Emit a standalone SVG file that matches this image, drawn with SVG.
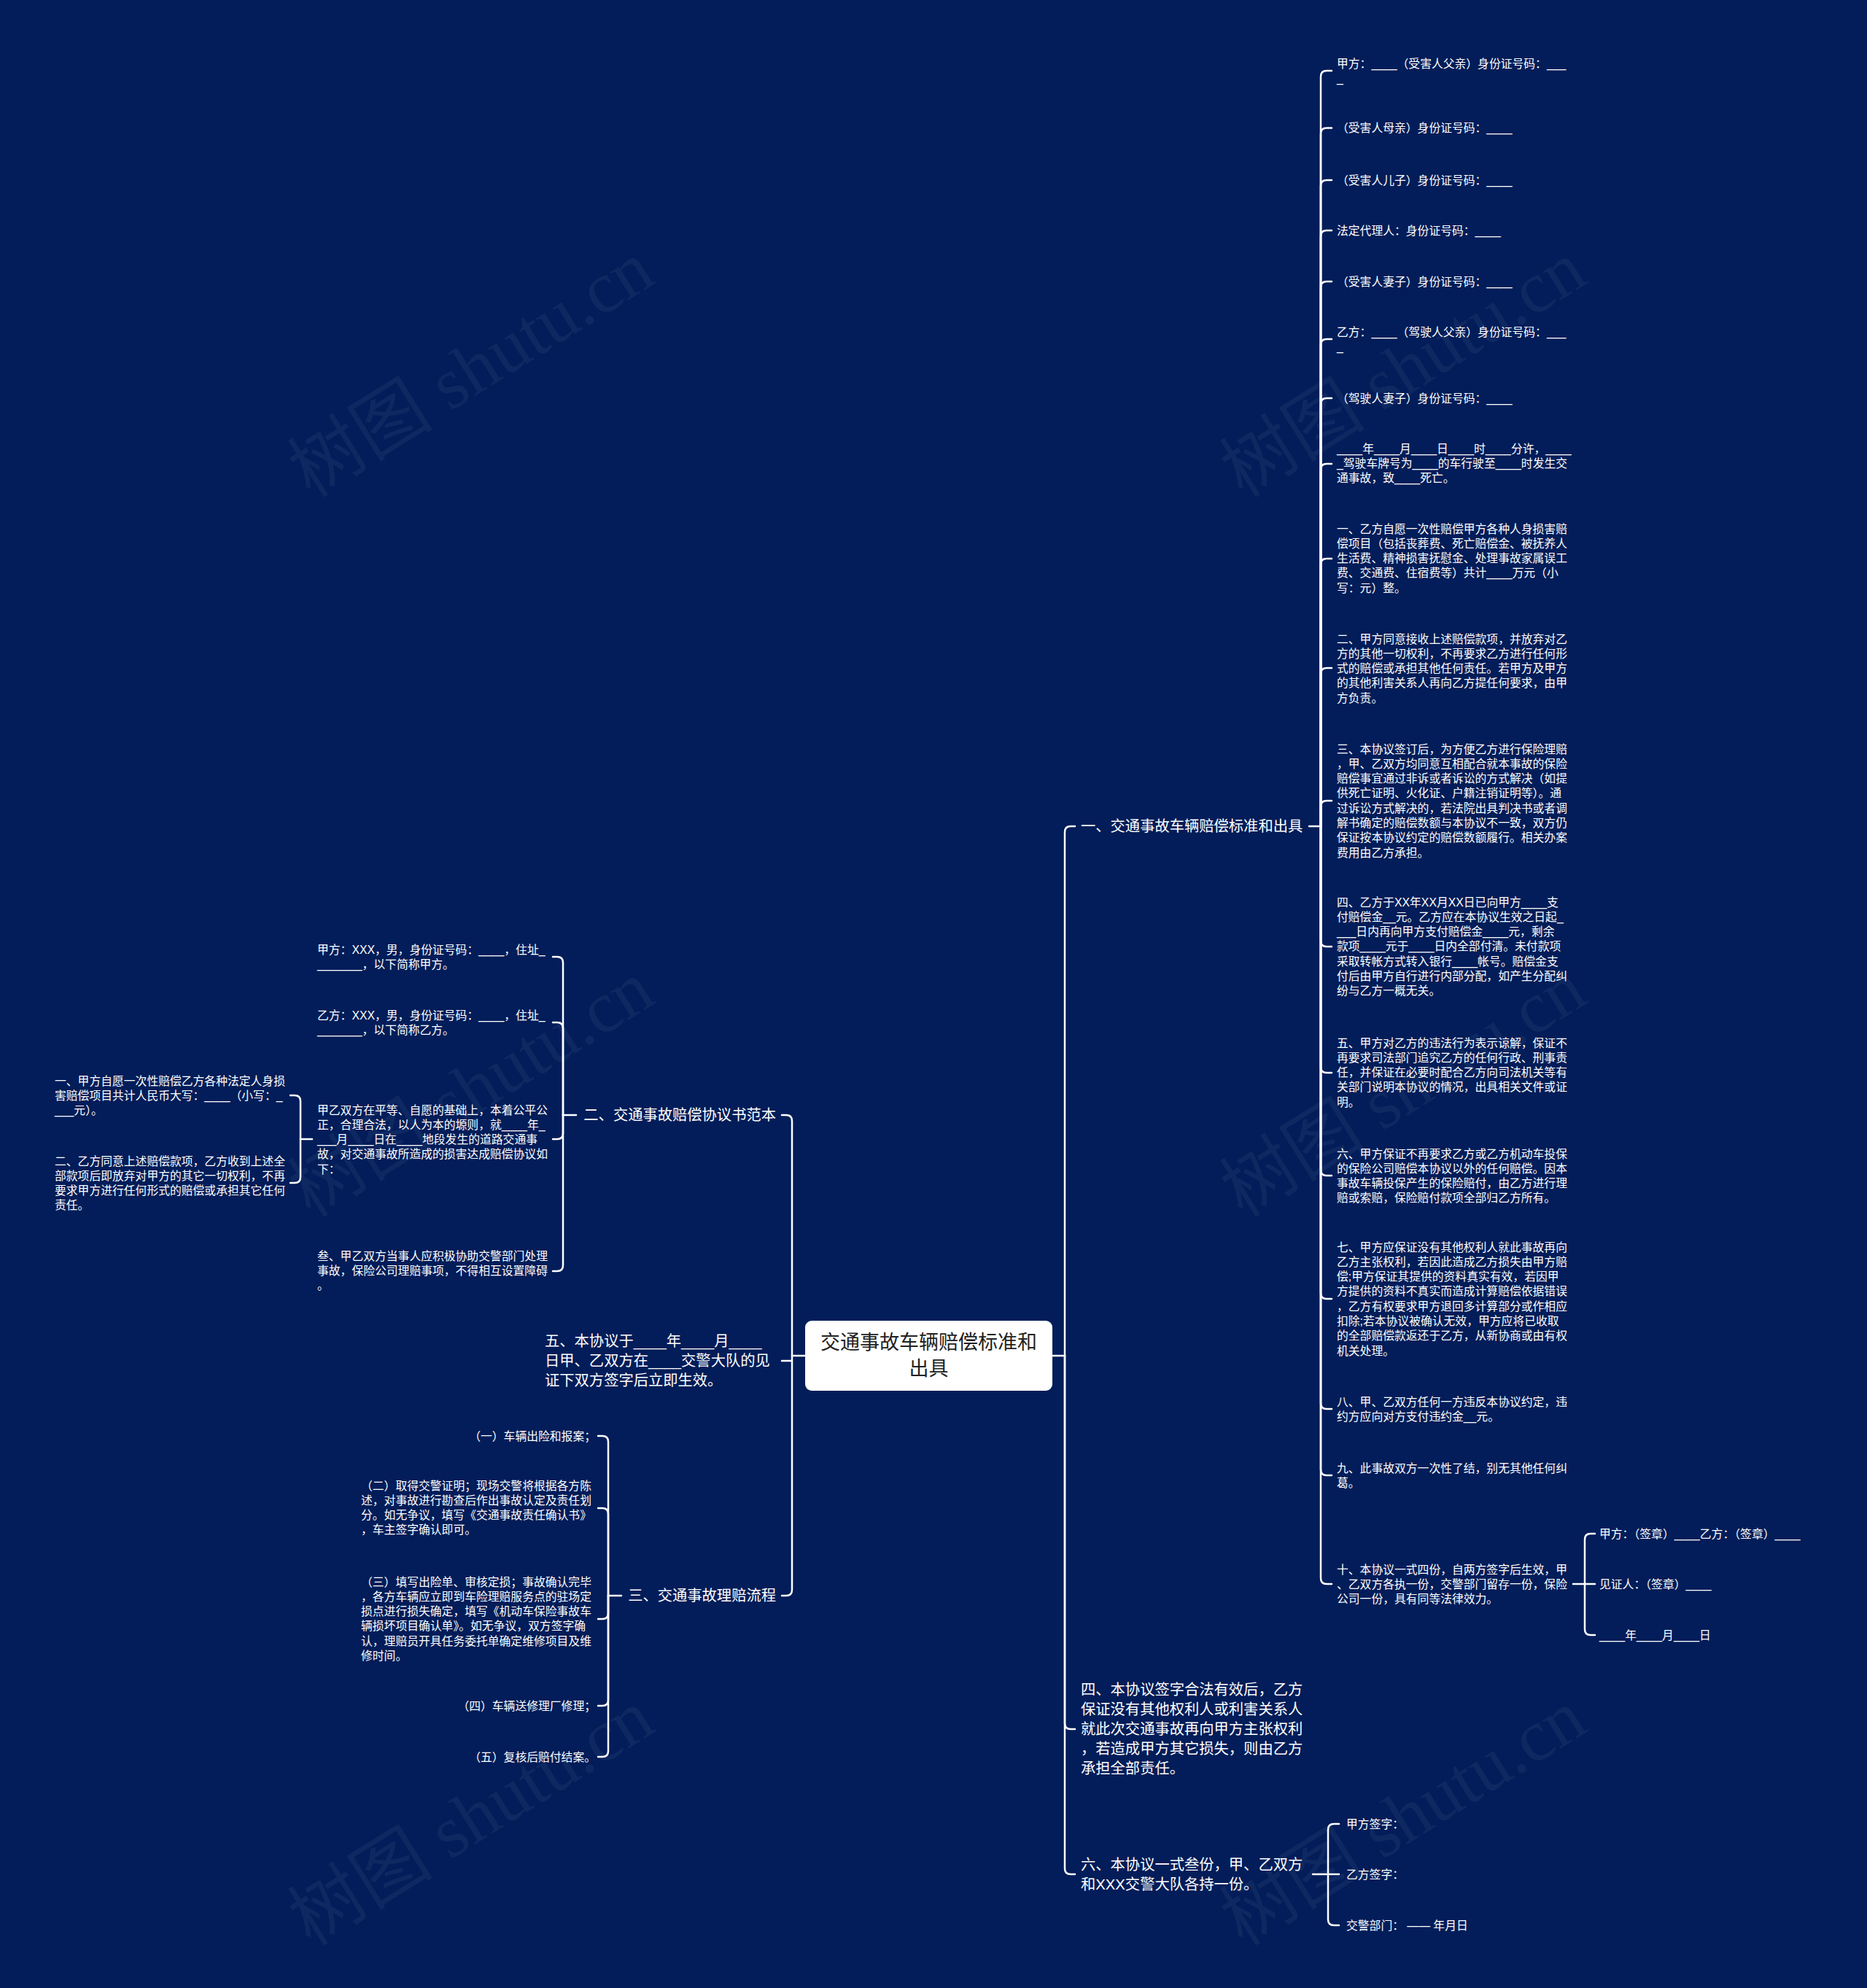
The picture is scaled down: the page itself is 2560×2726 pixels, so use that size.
<svg xmlns="http://www.w3.org/2000/svg" width="2560" height="2726" viewBox="0 0 2560 2726">
<style>
text{font-family:"Liberation Sans","Noto Sans CJK SC",sans-serif;fill:#ffffff}
.s{font-size:15.8px}
.m{font-size:20.3px}
.r{font-size:27px;fill:#222222;text-anchor:middle}
.e{text-anchor:end}
.c{fill:none;stroke:#ffffff;stroke-width:2.5;stroke-linecap:round}
.wm{font-family:"Liberation Serif","Noto Sans CJK SC",serif;font-size:100px;fill:#ffffff;fill-opacity:0.05}
</style>
<rect x="0" y="0" width="2560" height="2726" fill="#021d59"/>
<g id="watermarks">
<text class="wm" x="647" y="540" text-anchor="middle" transform="rotate(-32 647 508)">树图 shutu.cn</text>
<text class="wm" x="1925" y="540" text-anchor="middle" transform="rotate(-32 1925 508)">树图 shutu.cn</text>
<text class="wm" x="647" y="1527" text-anchor="middle" transform="rotate(-32 647 1495)">树图 shutu.cn</text>
<text class="wm" x="1925" y="1527" text-anchor="middle" transform="rotate(-32 1925 1495)">树图 shutu.cn</text>
<text class="wm" x="647" y="2526" text-anchor="middle" transform="rotate(-32 647 2494)">树图 shutu.cn</text>
<text class="wm" x="1925" y="2526" text-anchor="middle" transform="rotate(-32 1925 2494)">树图 shutu.cn</text>
</g>
<g id="connectors" class="c">
<path d="M1443,1859 H1460"/>
<path d="M1460,1859 V1141 Q1460,1133 1468,1133 H1474"/>
<path d="M1460,1859 V2363 Q1460,2371 1468,2371 H1474"/>
<path d="M1460,1859 V2562 Q1460,2570 1468,2570 H1474"/>
<path d="M1104,1859 H1086"/>
<path d="M1086,1859 V1537 Q1086,1529 1078,1529 H1072"/>
<path d="M1086,1859 V2180 Q1086,2188 1078,2188 H1072"/>
<path d="M1086,1866 H1072"/>
<path d="M1795,1133 H1811"/>
<path d="M1811,1133 V105 Q1811,97 1819,97 H1826"/>
<path d="M1811,1133 V183.5 Q1811,175.5 1819,175.5 H1826"/>
<path d="M1811,1133 V255 Q1811,247 1819,247 H1826"/>
<path d="M1811,1133 V324 Q1811,316 1819,316 H1826"/>
<path d="M1811,1133 V394 Q1811,386 1819,386 H1826"/>
<path d="M1811,1133 V473 Q1811,465 1819,465 H1826"/>
<path d="M1811,1133 V554 Q1811,546 1819,546 H1826"/>
<path d="M1811,1133 V644 Q1811,636 1819,636 H1826"/>
<path d="M1811,1133 V774 Q1811,766 1819,766 H1826"/>
<path d="M1811,1133 V924 Q1811,916 1819,916 H1826"/>
<path d="M1811,1133 V1106 Q1811,1098 1819,1098 H1826"/>
<path d="M1811,1133 V1290 Q1811,1298 1819,1298 H1826"/>
<path d="M1811,1133 V1463 Q1811,1471 1819,1471 H1826"/>
<path d="M1811,1133 V1604 Q1811,1612 1819,1612 H1826"/>
<path d="M1811,1133 V1773 Q1811,1781 1819,1781 H1826"/>
<path d="M1811,1133 V1924 Q1811,1932 1819,1932 H1826"/>
<path d="M1811,1133 V2015 Q1811,2023 1819,2023 H1826"/>
<path d="M1811,1133 V2164 Q1811,2172 1819,2172 H1826"/>
<path d="M2157,2172 H2187"/>
<path d="M2173,2172 V2111 Q2173,2103 2181,2103 H2187"/>
<path d="M2173,2172 V2234 Q2173,2242 2181,2242 H2187"/>
<path d="M1800,2570 H1836"/>
<path d="M1821,2570 V2509 Q1821,2501 1829,2501 H1836"/>
<path d="M1821,2570 V2632 Q1821,2640 1829,2640 H1836"/>
<path d="M790,1529 H772"/>
<path d="M772,1529 V1320 Q772,1312 764,1312 H758"/>
<path d="M772,1529 V1410 Q772,1402 764,1402 H758"/>
<path d="M772,1529 V1554 Q772,1562 764,1562 H758"/>
<path d="M772,1529 V1735 Q772,1743 764,1743 H758"/>
<path d="M428,1562 H412"/>
<path d="M412,1562 V1510 Q412,1502 404,1502 H398"/>
<path d="M412,1562 V1614 Q412,1622 404,1622 H398"/>
<path d="M852,2188 H834"/>
<path d="M834,2188 V1977 Q834,1969 826,1969 H820"/>
<path d="M834,2188 V2076 Q834,2068 826,2068 H820"/>
<path d="M834,2188 V2212 Q834,2220 826,2220 H820"/>
<path d="M834,2188 V2331 Q834,2339 826,2339 H820"/>
<path d="M834,2188 V2401 Q834,2409 826,2409 H820"/>
</g>
<g id="root">
<rect x="1104" y="1811" width="339" height="96" rx="9" fill="#ffffff"/>
<text class="r" x="1273.5" y="1850">交通事故车辆赔偿标准和<tspan x="1273.5" dy="36">出具</tspan></text>
</g>
<g id="b1"><text class="m" x="1482" y="1140">一、交通事故车辆赔偿标准和出具</text></g>
<g id="b1-1"><text class="s" x="1833" y="92.5">甲方：____（受害人父亲）身份证号码：___<tspan x="1833" dy="20.3">_</tspan></text></g>
<g id="b1-2"><text class="s" x="1833" y="181">（受害人母亲）身份证号码：____</text></g>
<g id="b1-3"><text class="s" x="1833" y="252.5">（受害人儿子）身份证号码：____</text></g>
<g id="b1-4"><text class="s" x="1833" y="321.5">法定代理人：身份证号码：____</text></g>
<g id="b1-5"><text class="s" x="1833" y="391.5">（受害人妻子）身份证号码：____</text></g>
<g id="b1-6"><text class="s" x="1833" y="460.5">乙方：____（驾驶人父亲）身份证号码：___<tspan x="1833" dy="20.3">_</tspan></text></g>
<g id="b1-7"><text class="s" x="1833" y="551.5">（驾驶人妻子）身份证号码：____</text></g>
<g id="b1-8"><text class="s" x="1833" y="620.5">____年____月____日____时____分许，____<tspan x="1833" dy="20.3">_驾驶车牌号为____的车行驶至____时发生交</tspan><tspan x="1833" dy="20.3">通事故，致____死亡。</tspan></text></g>
<g id="b1-9"><text class="s" x="1833" y="730.5">一、乙方自愿一次性赔偿甲方各种人身损害赔<tspan x="1833" dy="20.3">偿项目（包括丧葬费、死亡赔偿金、被抚养人</tspan><tspan x="1833" dy="20.3">生活费、精神损害抚慰金、处理事故家属误工</tspan><tspan x="1833" dy="20.3">费、交通费、住宿费等）共计____万元（小</tspan><tspan x="1833" dy="20.3">写：元）整。</tspan></text></g>
<g id="b1-10"><text class="s" x="1833" y="881.5">二、甲方同意接收上述赔偿款项，并放弃对乙<tspan x="1833" dy="20.3">方的其他一切权利，不再要求乙方进行任何形</tspan><tspan x="1833" dy="20.3">式的赔偿或承担其他任何责任。若甲方及甲方</tspan><tspan x="1833" dy="20.3">的其他利害关系人再向乙方提任何要求，由甲</tspan><tspan x="1833" dy="20.3">方负责。</tspan></text></g>
<g id="b1-11"><text class="s" x="1833" y="1032.5">三、本协议签订后，为方便乙方进行保险理赔<tspan x="1833" dy="20.3">，甲、乙双方均同意互相配合就本事故的保险</tspan><tspan x="1833" dy="20.3">赔偿事宜通过非诉或者诉讼的方式解决（如提</tspan><tspan x="1833" dy="20.3">供死亡证明、火化证、户籍注销证明等）。通</tspan><tspan x="1833" dy="20.3">过诉讼方式解决的，若法院出具判决书或者调</tspan><tspan x="1833" dy="20.3">解书确定的赔偿数额与本协议不一致，双方仍</tspan><tspan x="1833" dy="20.3">保证按本协议约定的赔偿数额履行。相关办案</tspan><tspan x="1833" dy="20.3">费用由乙方承担。</tspan></text></g>
<g id="b1-12"><text class="s" x="1833" y="1242.5">四、乙方于XX年XX月XX日已向甲方____支<tspan x="1833" dy="20.3">付赔偿金__元。乙方应在本协议生效之日起_</tspan><tspan x="1833" dy="20.3">___日内再向甲方支付赔偿金____元，剩余</tspan><tspan x="1833" dy="20.3">款项____元于____日内全部付清。未付款项</tspan><tspan x="1833" dy="20.3">采取转帐方式转入银行____帐号。赔偿金支</tspan><tspan x="1833" dy="20.3">付后由甲方自行进行内部分配，如产生分配纠</tspan><tspan x="1833" dy="20.3">纷与乙方一概无关。</tspan></text></g>
<g id="b1-13"><text class="s" x="1833" y="1435.5">五、甲方对乙方的违法行为表示谅解，保证不<tspan x="1833" dy="20.3">再要求司法部门追究乙方的任何行政、刑事责</tspan><tspan x="1833" dy="20.3">任，并保证在必要时配合乙方向司法机关等有</tspan><tspan x="1833" dy="20.3">关部门说明本协议的情况，出具相关文件或证</tspan><tspan x="1833" dy="20.3">明。</tspan></text></g>
<g id="b1-14"><text class="s" x="1833" y="1587.5">六、甲方保证不再要求乙方或乙方机动车投保<tspan x="1833" dy="20.3">的保险公司赔偿本协议以外的任何赔偿。因本</tspan><tspan x="1833" dy="20.3">事故车辆投保产生的保险赔付，由乙方进行理</tspan><tspan x="1833" dy="20.3">赔或索赔，保险赔付款项全部归乙方所有。</tspan></text></g>
<g id="b1-15"><text class="s" x="1833" y="1715.5">七、甲方应保证没有其他权利人就此事故再向<tspan x="1833" dy="20.3">乙方主张权利，若因此造成乙方损失由甲方赔</tspan><tspan x="1833" dy="20.3">偿;甲方保证其提供的资料真实有效，若因甲</tspan><tspan x="1833" dy="20.3">方提供的资料不真实而造成计算赔偿依据错误</tspan><tspan x="1833" dy="20.3">，乙方有权要求甲方退回多计算部分或作相应</tspan><tspan x="1833" dy="20.3">扣除;若本协议被确认无效，甲方应将已收取</tspan><tspan x="1833" dy="20.3">的全部赔偿款返还于乙方，从新协商或由有权</tspan><tspan x="1833" dy="20.3">机关处理。</tspan></text></g>
<g id="b1-16"><text class="s" x="1833" y="1927.5">八、甲、乙双方任何一方违反本协议约定，违<tspan x="1833" dy="20.3">约方应向对方支付违约金__元。</tspan></text></g>
<g id="b1-17"><text class="s" x="1833" y="2018.5">九、此事故双方一次性了结，别无其他任何纠<tspan x="1833" dy="20.3">葛。</tspan></text></g>
<g id="b1-18"><text class="s" x="1833" y="2157.5">十、本协议一式四份，自两方签字后生效，甲<tspan x="1833" dy="20.3">、乙双方各执一份，交警部门留存一份，保险</tspan><tspan x="1833" dy="20.3">公司一份，具有同等法律效力。</tspan></text></g>
<g id="b1-18-1"><text class="s" x="2193" y="2108.5">甲方：（签章）____乙方：（签章）____</text></g>
<g id="b1-18-2"><text class="s" x="2193" y="2177.5">见证人：（签章）____</text></g>
<g id="b1-18-3"><text class="s" x="2193" y="2247.5">____年____月____日</text></g>
<g id="b4"><text class="m" x="1482" y="2324">四、本协议签字合法有效后，乙方<tspan x="1482" dy="27">保证没有其他权利人或利害关系人</tspan><tspan x="1482" dy="27">就此次交通事故再向甲方主张权利</tspan><tspan x="1482" dy="27">，若造成甲方其它损失，则由乙方</tspan><tspan x="1482" dy="27">承担全部责任。</tspan></text></g>
<g id="b6"><text class="m" x="1482" y="2564">六、本协议一式叁份，甲、乙双方<tspan x="1482" dy="27">和XXX交警大队各持一份。</tspan></text></g>
<g id="b6-1"><text class="s" x="1846" y="2506.5">甲方签字：</text></g>
<g id="b6-2"><text class="s" x="1846" y="2575.5">乙方签字：</text></g>
<g id="b6-3"><text class="s" x="1846" y="2645.5">交警部门： —— 年月日</text></g>
<g id="b2"><text class="m e" x="1064" y="1536">二、交通事故赔偿协议书范本</text></g>
<g id="b2-1"><text class="s" x="435" y="1307.5">甲方：XXX，男，身份证号码：____，住址_<tspan x="435" dy="20.3">_______，以下简称甲方。</tspan></text></g>
<g id="b2-2"><text class="s" x="435" y="1397.5">乙方：XXX，男，身份证号码：____，住址_<tspan x="435" dy="20.3">_______，以下简称乙方。</tspan></text></g>
<g id="b2-3"><text class="s" x="435" y="1527.5">甲乙双方在平等、自愿的基础上，本着公平公<tspan x="435" dy="20.3">正，合理合法，以人为本的塬则，就____年_</tspan><tspan x="435" dy="20.3">___月____日在____地段发生的道路交通事</tspan><tspan x="435" dy="20.3">故，对交通事故所造成的损害达成赔偿协议如</tspan><tspan x="435" dy="20.3">下：</tspan></text></g>
<g id="b2-3-1"><text class="s" x="75" y="1487.5">一、甲方自愿一次性赔偿乙方各种法定人身损<tspan x="75" dy="20.3">害赔偿项目共计人民币大写：____（小写：_</tspan><tspan x="75" dy="20.3">___元）。</tspan></text></g>
<g id="b2-3-2"><text class="s" x="75" y="1597.5">二、乙方同意上述赔偿款项，乙方收到上述全<tspan x="75" dy="20.3">部款项后即放弃对甲方的其它一切权利，不再</tspan><tspan x="75" dy="20.3">要求甲方进行任何形式的赔偿或承担其它任何</tspan><tspan x="75" dy="20.3">责任。</tspan></text></g>
<g id="b2-4"><text class="s" x="435" y="1727.5">叁、甲乙双方当事人应积极协助交警部门处理<tspan x="435" dy="20.3">事故，保险公司理赔事项，不得相互设置障碍</tspan><tspan x="435" dy="20.3">。</tspan></text></g>
<g id="b5"><text class="m" x="747" y="1846">五、本协议于____年____月____<tspan x="747" dy="27">日甲、乙双方在____交警大队的见</tspan><tspan x="747" dy="27">证下双方签字后立即生效。</tspan></text></g>
<g id="b3"><text class="m e" x="1064" y="2195">三、交通事故理赔流程</text></g>
<g id="b3-1"><text class="s e" x="817" y="1974.5">（一）车辆出险和报案；</text></g>
<g id="b3-2"><text class="s" x="495" y="2042.5">（二）取得交警证明；现场交警将根据各方陈<tspan x="495" dy="20.3">述，对事故进行勘查后作出事故认定及责任划</tspan><tspan x="495" dy="20.3">分。如无争议，填写《交通事故责任确认书》</tspan><tspan x="495" dy="20.3">，车主签字确认即可。</tspan></text></g>
<g id="b3-3"><text class="s" x="495" y="2174.5">（三）填写出险单、审核定损；事故确认完毕<tspan x="495" dy="20.3">，各方车辆应立即到车险理赔服务点的驻场定</tspan><tspan x="495" dy="20.3">损点进行损失确定，填写《机动车保险事故车</tspan><tspan x="495" dy="20.3">辆损坏项目确认单》。如无争议，双方签字确</tspan><tspan x="495" dy="20.3">认，理赔员开具任务委托单确定维修项目及维</tspan><tspan x="495" dy="20.3">修时间。</tspan></text></g>
<g id="b3-4"><text class="s e" x="817" y="2344.5">（四）车辆送修理厂修理；</text></g>
<g id="b3-5"><text class="s e" x="817" y="2414.5">（五）复核后赔付结案。</text></g>
</svg>
